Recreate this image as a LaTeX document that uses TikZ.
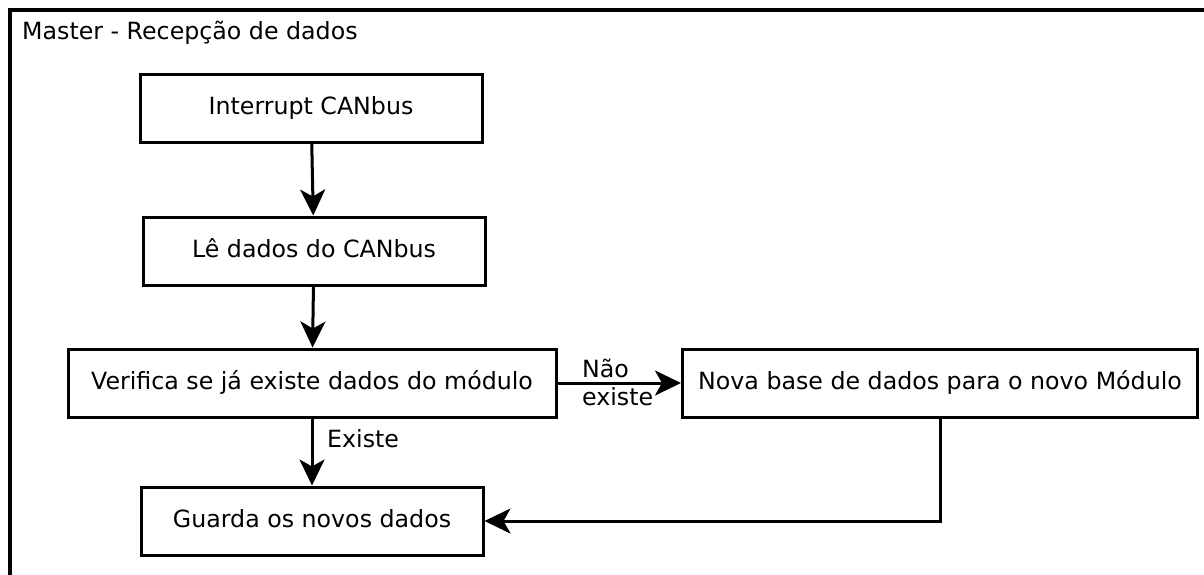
\documentclass[tikz,border=0pt]{standalone}
\usepackage{fontspec}
\setmainfont{DejaVu Sans}
\usetikzlibrary{arrows.meta}

\begin{document}
\begin{tikzpicture}[x=1pt,y=-1pt,
    font=\fontsize{23.7pt}{28pt}\selectfont,
    caixa/.style={draw,line width=3pt,minimum height=68pt,text height=17pt,text depth=5pt,inner sep=0pt},
    seta/.style={line width=3pt,-{Stealth[length=26pt,width=25pt,inset=7pt]}},
    rotulo/.style={inner sep=0pt,anchor=base west}]
    \useasboundingbox (0,0) rectangle (1204,574);
    \draw[line width=3.5pt] (10,580) -- (10,10) -- (1210,10);
    \node[rotulo] (titulo) at (22,39) {Master - Recepção de dados};
    \node[caixa,minimum width=342pt] (INT) at (311,108) {Interrupt CANbus};
    \node[caixa,minimum width=342pt] (LE) at (314,251) {Lê dados do CANbus};
    \node[caixa,minimum width=488pt] (VER) at (312,383) {Verifica se já existe dados do módulo};
    \node[caixa,minimum width=515pt] (NOVA) at (940,383) {Nova base de dados para o novo Módulo};
    \node[caixa,minimum width=342pt] (GRD) at (312,521) {Guarda os novos dados};
    \node[rotulo] (nao) at (582,377) {Não};
    \node[rotulo] (naoexiste) at (582,405) {existe};
    \node[rotulo] (existe) at (327,447) {Existe};
    \path[seta] (INT) edge (LE);
    \path[seta] (LE) edge (VER);
    \path[seta] (VER) edge (NOVA);
    \path[seta] (VER) edge (GRD);
    \draw[seta] (NOVA) |- (GRD);
  \end{tikzpicture}
\end{document}
